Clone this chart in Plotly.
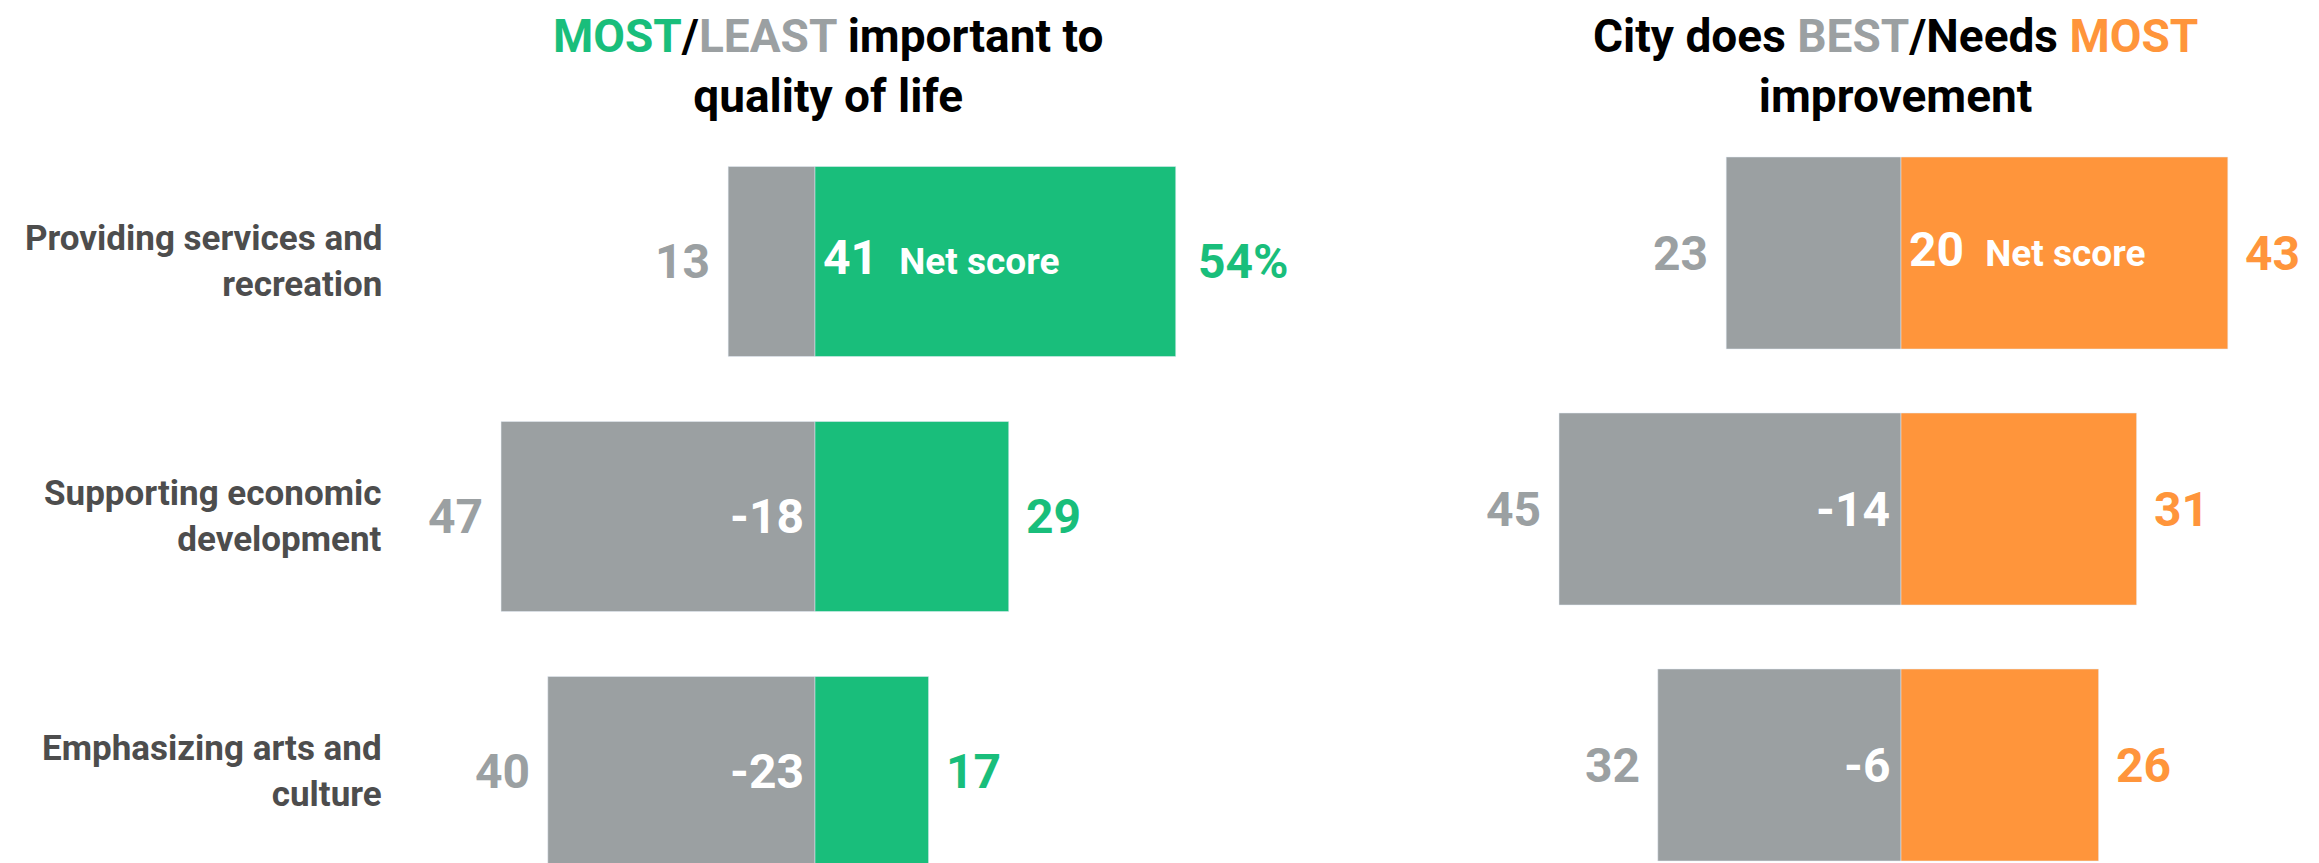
import plotly.graph_objects as go

# categories (rows, top to bottom)
labels = ["Providing services and<br>recreation",
          "Supporting economic<br>development",
          "Emphasizing arts and<br>culture"]

# left panel: most / least important to quality of life (%)
least_important = [13, 47, 40]
most_important = [54, 29, 17]

# right panel: city does best / needs most improvement (%)
city_best = [23, 45, 32]
needs_most = [43, 31, 26]

net_left = [m - l for m, l in zip(most_important, least_important)]
net_right = [n - b for n, b in zip(needs_most, city_best)]

GREEN = "#19BE7B"
GRAY = "#9BA0A2"
ORANGE = "#FF953B"
DARK = "#4D4D4D"
FONT = "Roboto"

# the page body has an 8px margin, so the figure is drawn 8px in from the corner
PAGE_W, PAGE_H, OFF = 2319, 863, 8
W, H = PAGE_W - OFF, PAGE_H - OFF
SPLIT = 0.56

# pixel geometry of each panel (zero line and px per percentage point)
L_ZERO, L_SCALE = 815 - OFF, 6.68
R_ZERO, R_SCALE = 1901 - OFF, 7.6
L_ROW0, L_PITCH = 261.5 - OFF, 255
R_ROW0, R_PITCH = 253 - OFF, 256

fig = go.Figure()

# left panel bars
fig.add_trace(go.Bar(y=labels, x=[-v for v in least_important], orientation="h",
                     marker_color=GRAY, width=0.745, xaxis="x", yaxis="y",
                     hoverinfo="skip"))
fig.add_trace(go.Bar(y=labels, x=most_important, orientation="h",
                     marker_color=GREEN, width=0.745, xaxis="x", yaxis="y",
                     hoverinfo="skip"))

# right panel bars
fig.add_trace(go.Bar(y=labels, x=[-v for v in city_best], orientation="h",
                     marker_color=GRAY, width=0.75, xaxis="x2", yaxis="y2",
                     hoverinfo="skip"))
fig.add_trace(go.Bar(y=labels, x=needs_most, orientation="h",
                     marker_color=ORANGE, width=0.75, xaxis="x2", yaxis="y2",
                     hoverinfo="skip"))

ann = []
NUM = 48

def value_labels(xref, yref, negs, poss, nets, pos_color, pct_first):
    for i, lab in enumerate(labels):
        ann.append(dict(x=-negs[i], y=lab, xref=xref, yref=yref, text=str(negs[i]),
                        xanchor="right", xshift=-16, showarrow=False,
                        font=dict(size=NUM, color=GRAY)))
        txt = f"{poss[i]}%" if (pct_first and i == 0) else str(poss[i])
        ann.append(dict(x=poss[i], y=lab, xref=xref, yref=yref, text=txt,
                        xanchor="left", xshift=20 if txt.endswith("%") else 15,
                        showarrow=False, font=dict(size=NUM, color=pos_color)))
        if nets[i] >= 0:
            t = str(nets[i])
            if i == 0:
                t += " <span style='font-size:37px'>&nbsp;Net score</span>"
            ann.append(dict(x=0, y=lab, xref=xref, yref=yref, text=t,
                            xanchor="left", xshift=6, yshift=4, showarrow=False,
                            font=dict(size=NUM, color="white")))
        else:
            ann.append(dict(x=0, y=lab, xref=xref, yref=yref, text=str(nets[i]),
                            xanchor="right", xshift=-9, showarrow=False,
                            font=dict(size=NUM, color="white")))

value_labels("x", "y", least_important, most_important, net_left, GREEN, True)
value_labels("x2", "y2", city_best, needs_most, net_right, ORANGE, False)

# category labels
for lab in labels:
    ann.append(dict(x=(384 - OFF) / W, y=lab, xref="paper", yref="y", text=lab,
                    xanchor="right", align="right", showarrow=False,
                    font=dict(size=35, color=DARK)))

# panel titles
ann.append(dict(x=(828 - OFF) / W, y=1.0, xref="paper", yref="paper",
                text=f"<span style='color:{GREEN}'>MOST</span>/<span style='color:{GRAY}'>LEAST</span>"
                     " important to<br>quality of life",
                xanchor="center", yanchor="top", borderpad=0, showarrow=False,
                font=dict(size=46, color="#000000")))
ann.append(dict(x=(1895 - OFF) / W, y=1.0, xref="paper", yref="paper",
                text=f"City does <span style='color:{GRAY}'>BEST</span>/Needs "
                     f"<span style='color:{ORANGE}'>MOST</span><br>improvement",
                xanchor="center", yanchor="top", borderpad=0, showarrow=False,
                font=dict(size=46, color="#000000")))

axis_off = dict(showgrid=False, zeroline=False, showticklabels=False,
                showline=False, ticks="", fixedrange=True)

fig.update_layout(
    width=W, height=H,
    barmode="relative",
    showlegend=False,
    plot_bgcolor="white", paper_bgcolor="white",
    margin=dict(l=0, r=0, t=0, b=0),
    font=dict(family=FONT, weight="bold"),
    xaxis=dict(domain=[0, SPLIT], anchor="y",
               range=[-L_ZERO / L_SCALE, (SPLIT * W - L_ZERO) / L_SCALE], **axis_off),
    xaxis2=dict(domain=[SPLIT, 1], anchor="y2",
                range=[(SPLIT * W - R_ZERO) / R_SCALE, (W - R_ZERO) / R_SCALE], **axis_off),
    yaxis=dict(domain=[0, 1], anchor="x", type="category",
               range=[(H - L_ROW0) / L_PITCH, -L_ROW0 / L_PITCH], **axis_off),
    yaxis2=dict(domain=[0, 1], anchor="x2", type="category",
                range=[(H - R_ROW0) / R_PITCH, -R_ROW0 / R_PITCH], **axis_off),
    annotations=ann,
)

fig.write_html("out.html")
